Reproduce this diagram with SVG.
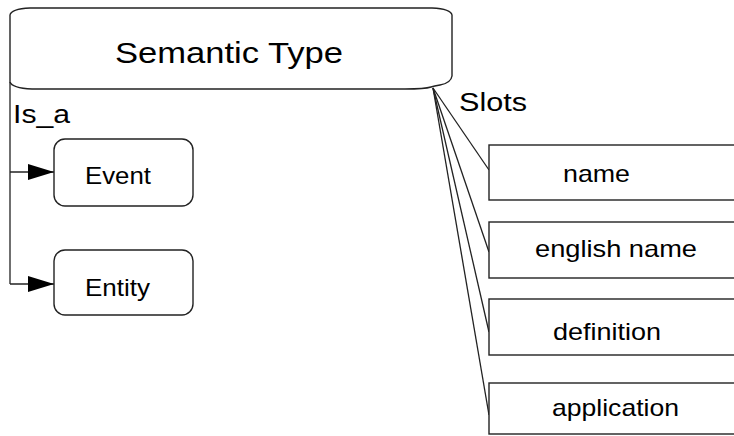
<svg xmlns="http://www.w3.org/2000/svg" width="734" height="436" viewBox="0 0 734 436">
<style>
.shape{fill:#fff;stroke:#222;stroke-width:1.4}
.line{fill:none;stroke:#222;stroke-width:1.3}
text{font-family:"Liberation Sans",Arial,sans-serif;fill:#000}
.lbl{font-size:24px}
</style>
<defs>
<marker id="arr" markerWidth="26" markerHeight="18" refX="26" refY="9" orient="auto" markerUnits="userSpaceOnUse">
<path d="M0,1 L26,9 L0,17 Z" fill="#000"/>
</marker>
</defs>
<g id="connectors">
<path class="line" d="M10,82 L10,284"/>
<path class="line" d="M10,172 L54,172" marker-end="url(#arr)"/>
<path class="line" d="M10,284 L54,284" marker-end="url(#arr)"/>
<path class="line" d="M433,88 L489,170"/>
<path class="line" d="M433,88 L489,252"/>
<path class="line" d="M433,88 L489,332"/>
<path class="line" d="M433,88 L489,415"/>
<text x="13" y="123" style="font-size:25px" textLength="57" lengthAdjust="spacingAndGlyphs">Is_a</text>
<text x="459" y="111" style="font-size:25px" textLength="68" lengthAdjust="spacingAndGlyphs">Slots</text>
</g>
<g id="semantic-type">
<path class="shape" d="M10,15 Q11,9 30,8 L432,8 Q451,9 452,15 L452,76 Q451,83 440,85 Q434,86 431,87 Q425,89 405,89 L32,89 Q12,88 10,82 Z"/>
<text x="115" y="63" style="font-size:30px" textLength="228" lengthAdjust="spacingAndGlyphs">Semantic Type</text>
</g>
<g id="event">
<rect class="shape" x="54" y="139" width="139" height="67" rx="11" ry="11"/>
<text class="lbl" x="85" y="184" textLength="66" lengthAdjust="spacingAndGlyphs">Event</text>
</g>
<g id="entity">
<rect class="shape" x="54" y="250" width="139" height="65" rx="11" ry="11"/>
<text class="lbl" x="85" y="296" textLength="65" lengthAdjust="spacingAndGlyphs">Entity</text>
</g>
<g id="slot-name">
<rect class="shape" x="489" y="145" width="260" height="55"/>
<text class="lbl" x="563" y="182" textLength="67" lengthAdjust="spacingAndGlyphs">name</text>
</g>
<g id="slot-english-name">
<rect class="shape" x="489" y="222" width="260" height="56"/>
<text class="lbl" x="535" y="257" textLength="162" lengthAdjust="spacingAndGlyphs">english name</text>
</g>
<g id="slot-definition">
<rect class="shape" x="489" y="299" width="260" height="56"/>
<text class="lbl" x="553" y="340" textLength="108" lengthAdjust="spacingAndGlyphs">definition</text>
</g>
<g id="slot-application">
<rect class="shape" x="489" y="383" width="260" height="51"/>
<text class="lbl" x="552" y="416" textLength="127" lengthAdjust="spacingAndGlyphs">application</text>
</g>
</svg>
